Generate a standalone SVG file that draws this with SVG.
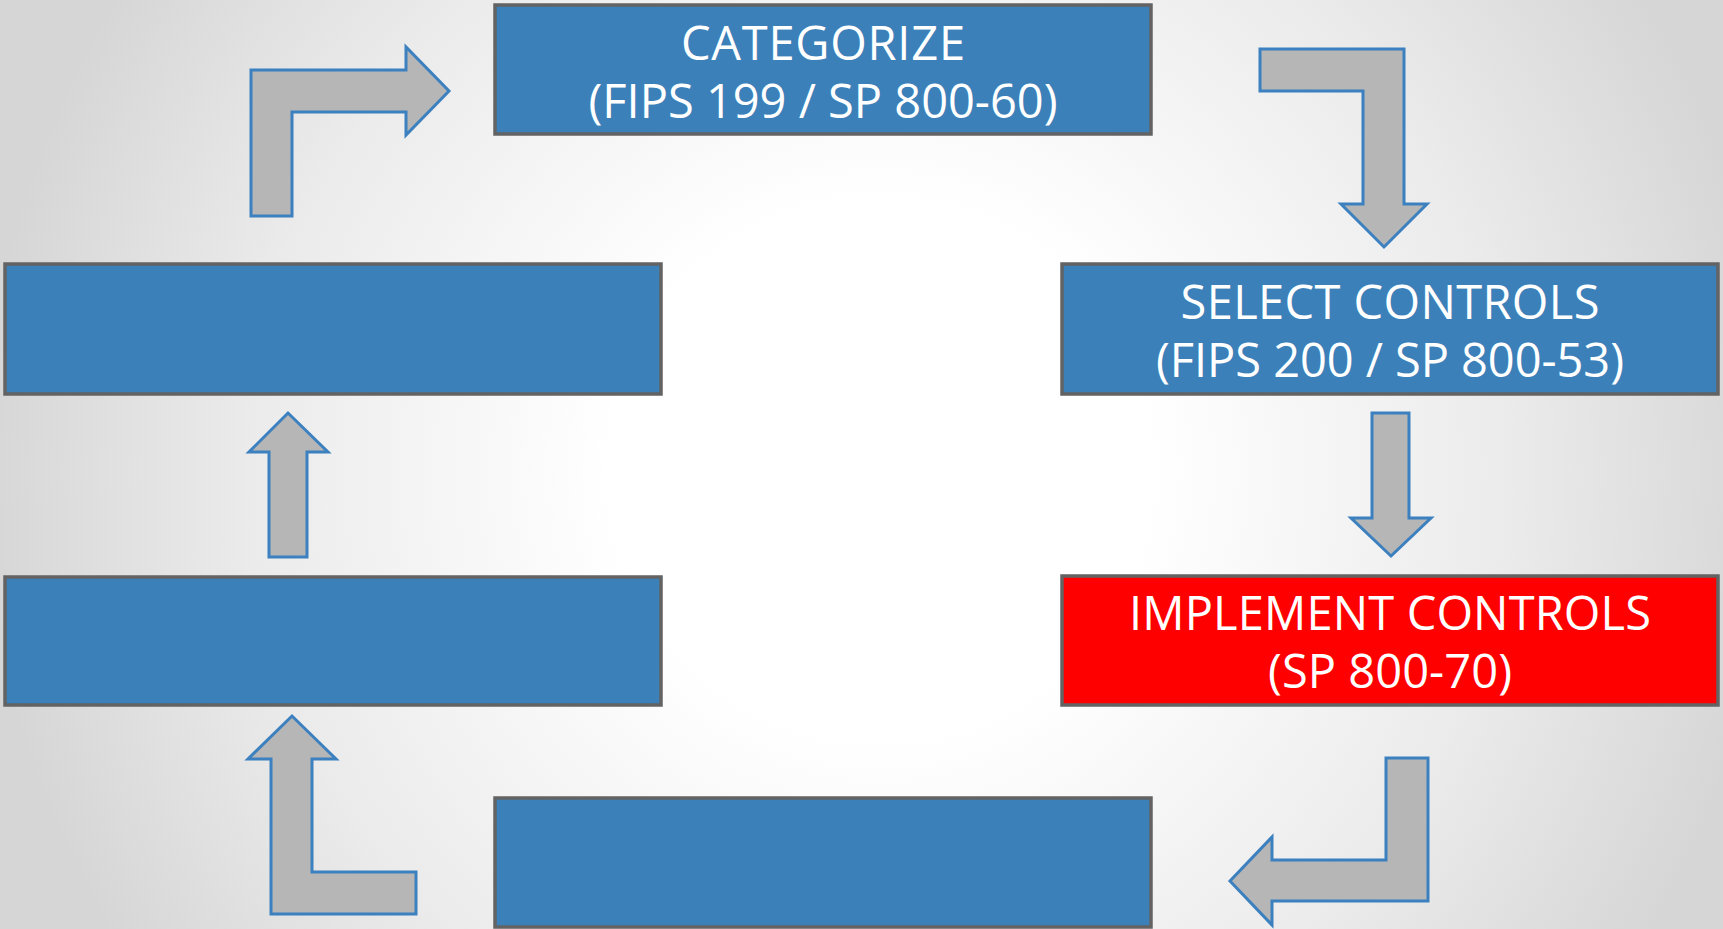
<svg xmlns="http://www.w3.org/2000/svg" width="1723" height="929" viewBox="0 0 1723 929">
  <defs>
    <radialGradient id="bg" gradientUnits="userSpaceOnUse" cx="880" cy="470" r="900">
      <stop offset="0" stop-color="#ffffff"/>
      <stop offset="0.3" stop-color="#ffffff"/>
      <stop offset="0.7" stop-color="#ebebeb"/>
      <stop offset="1" stop-color="#d6d6d6"/>
    </radialGradient>
    <style>
      .box { fill: #3b80b9; stroke: #636363; stroke-width: 3.5; }
      .box.active { fill: #ff0000; }
      .arrow { fill: #b6b6b6; stroke: #3c80bf; stroke-width: 3; stroke-linejoin: miter; }
      .label { font-family: "Open Sans", "Noto Sans", "DejaVu Sans", sans-serif; font-size: 47px; fill: #ffffff; text-anchor: middle; }
    </style>
  </defs>

  <!-- background -->
  <rect x="0" y="0" width="1723" height="929" fill="url(#bg)"/>

  <!-- cycle steps -->
  <g id="categorize">
    <rect class="box" x="495" y="5" width="656" height="129"/>
    <text class="label" x="823" y="60" textLength="284">CATEGORIZE</text>
    <text class="label" x="823" y="118" textLength="469">(FIPS 199 / SP 800-60)</text>
  </g>

  <g id="select-controls">
    <rect class="box" x="1062" y="264" width="656" height="130"/>
    <text class="label" x="1390" y="319" textLength="419">SELECT CONTROLS</text>
    <text class="label" x="1390" y="377" textLength="468">(FIPS 200 / SP 800-53)</text>
  </g>

  <g id="implement-controls">
    <rect class="box active" x="1062" y="576" width="656" height="129"/>
    <text class="label" x="1390" y="630" textLength="522">IMPLEMENT CONTROLS</text>
    <text class="label" x="1390" y="688" textLength="244">(SP 800-70)</text>
  </g>

  <g id="step-bottom">
    <rect class="box" x="495" y="798" width="656" height="129"/>
  </g>

  <g id="step-left-lower">
    <rect class="box" x="5" y="577" width="656" height="128"/>
  </g>

  <g id="step-left-upper">
    <rect class="box" x="5" y="264" width="656" height="130"/>
  </g>

  <!-- block arrows between steps -->
  <g id="connectors">
    <path class="arrow" d="M251,216 L251,70 L406,70 L406,47 L449,91 L406,135 L406,112 L292,112 L292,216 Z"/>
    <path class="arrow" d="M1260,49 L1404,49 L1404,204 L1427,204 L1384,247 L1341,204 L1363,204 L1363,91 L1260,91 Z"/>
    <path class="arrow" d="M1372,413 L1409,413 L1409,518 L1431,518 L1391,556 L1351,518 L1372,518 Z"/>
    <path class="arrow" d="M1386,758 L1428,758 L1428,901 L1272,901 L1272,925 L1230,881 L1272,837 L1272,860 L1386,860 Z"/>
    <path class="arrow" d="M271,914 L271,759 L248,759 L292,716 L336,759 L312,759 L312,872 L416,872 L416,914 Z"/>
    <path class="arrow" d="M269,557 L269,452 L249,452 L288,413 L328,452 L307,452 L307,557 Z"/>
  </g>
</svg>
